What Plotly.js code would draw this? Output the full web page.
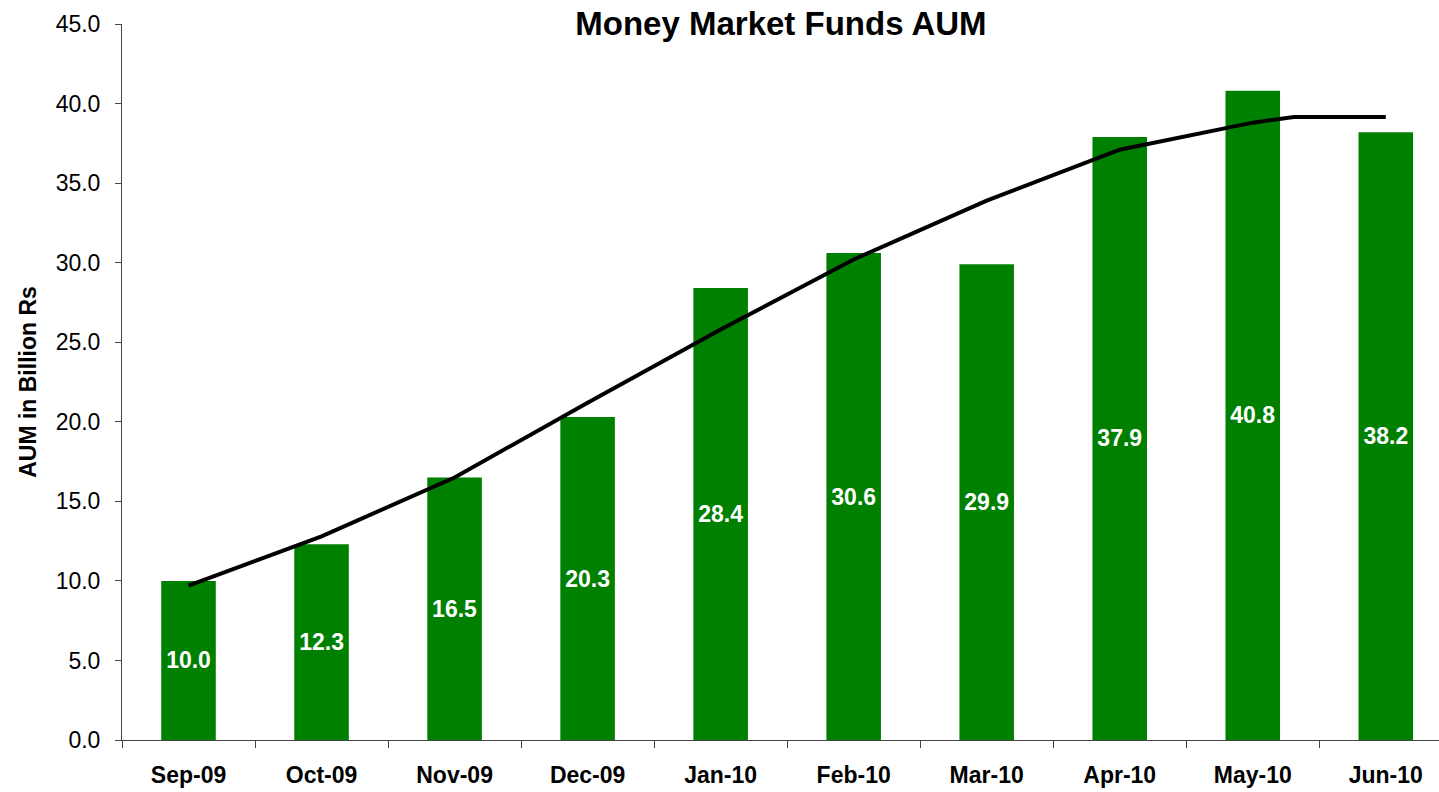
<!DOCTYPE html>
<html>
<head>
<meta charset="utf-8">
<script src="https://cdn.plot.ly/plotly-3.0.1.min.js"></script>
<style>
  html, body { margin: 0; padding: 0; background: #fff; }
  #chart { width: 1439px; height: 792px; }
</style>
</head>
<body>
<div id="chart"></div>
<script>
// Monthly AUM (billion Rs)
const months = ['Sep-09', 'Oct-09', 'Nov-09', 'Dec-09', 'Jan-10', 'Feb-10', 'Mar-10', 'Apr-10', 'May-10', 'Jun-10'];
const aum = [10.0, 12.3, 16.5, 20.3, 28.4, 30.6, 29.9, 37.9, 40.8, 38.2];

// trend line (x in category index units)
const trendX = [0, 1, 2, 3, 4, 5, 6, 7, 8, 8.31, 9.0];
const trendY = [9.7, 12.8, 16.5, 21.2, 25.8, 30.2, 33.9, 37.1, 38.8, 39.15, 39.15];

const xRange = [-0.5, 9.4];

const bars = {
    x: months,
    y: aum,
    type: 'bar',
    width: 0.41,
    marker: { color: '#008000' },
    text: aum.map(v => v.toFixed(1)),
    textposition: 'inside',
    insidetextanchor: 'middle',
    constraintext: 'none',
    textfont: { family: 'Arial, Liberation Sans, sans-serif', size: 23, color: '#ffffff', weight: 'bold' },
    hoverinfo: 'x+y',
    showlegend: false
};

const trend = {
    x: trendX,
    y: trendY,
    xaxis: 'x2',
    type: 'scatter',
    mode: 'lines',
    line: { color: '#000000', width: 4 },
    hoverinfo: 'skip',
    showlegend: false
};

const axisFont = 'Arial, Liberation Sans, sans-serif';

const layout = {
    width: 1439,
    height: 792,
    paper_bgcolor: '#ffffff',
    plot_bgcolor: '#ffffff',
    margin: { l: 122, r: 0, t: 24, b: 52 },
    font: { family: axisFont, color: '#000' },
    title: {
        text: '<b>Money Market Funds AUM</b>',
        font: { family: axisFont, size: 33, color: '#000' },
        x: 0.5427,
        xanchor: 'center',
        y: 0.97,
        yanchor: 'middle'
    },
    xaxis: {
        type: 'category',
        range: xRange,
        tickson: 'boundaries',
        ticks: 'outside',
        ticklen: 7,
        tickcolor: '#444',
        showline: true,
        linecolor: '#444',
        linewidth: 1,
        showgrid: false,
        zeroline: false,
        ticklabelstandoff: 14,
        tickfont: { family: axisFont, size: 23, color: '#000', weight: 'bold' }
    },
    xaxis2: {
        overlaying: 'x',
        range: xRange,
        visible: false
    },
    yaxis: {
        range: [0, 45],
        dtick: 5,
        tickformat: '.1f',
        ticks: 'outside',
        ticklen: 6,
        tickcolor: '#444',
        showline: true,
        linecolor: '#444',
        linewidth: 1,
        showgrid: false,
        zeroline: false,
        ticklabelstandoff: 10,
        tickfont: { family: axisFont, size: 23, color: '#000' },
        title: {
            text: '<b>AUM in Billion Rs</b>',
            font: { family: axisFont, size: 23, color: '#000' },
            standoff: 12
        }
    },
    bargap: 0.59
};

Plotly.newPlot('chart', [bars, trend], layout, { displayModeBar: false, staticPlot: true });
</script>
</body>
</html>
